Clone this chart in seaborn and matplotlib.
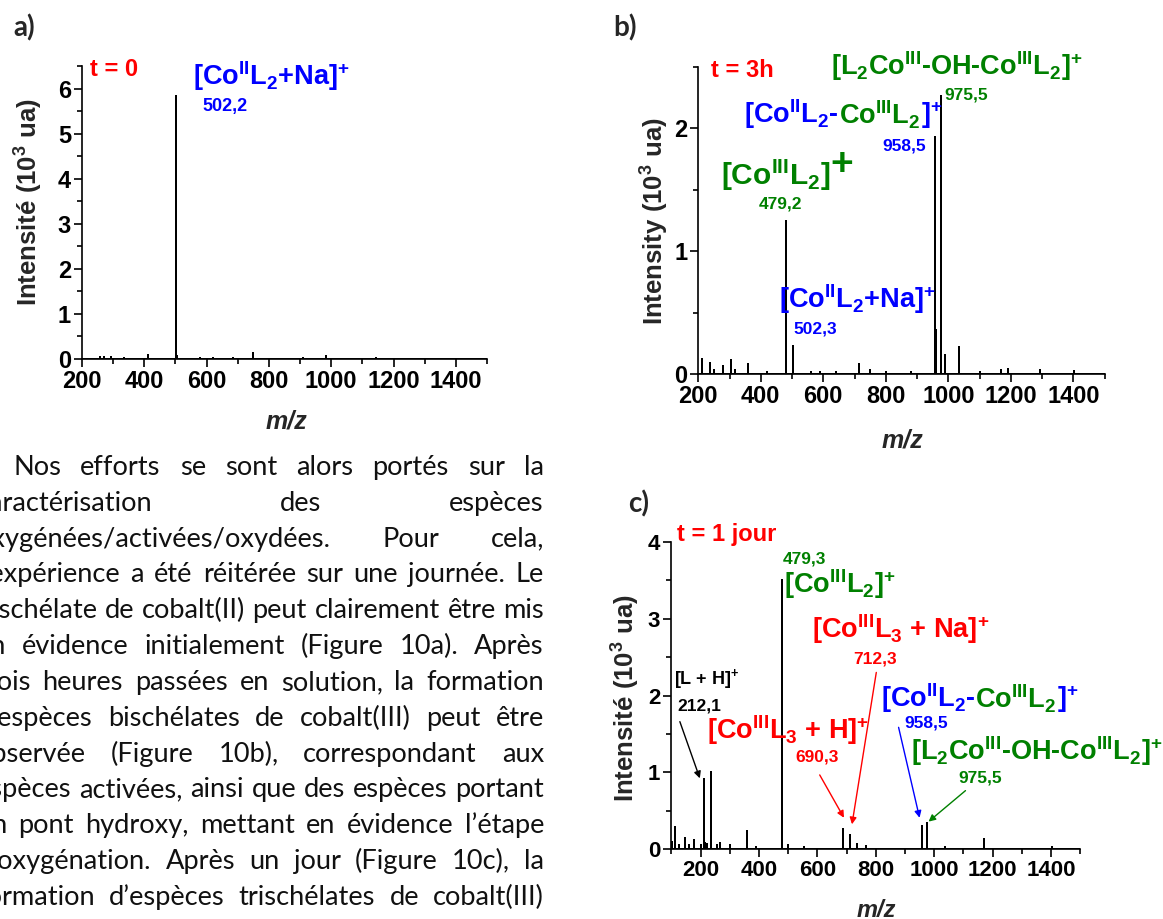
import numpy as np
import pandas as pd
import matplotlib
matplotlib.use('Agg')
import matplotlib.pyplot as plt
import seaborn as sns
from matplotlib.ticker import MultipleLocator
from matplotlib.transforms import IdentityTransform

# ---------------- data ----------------
a_mz = [258.8, 271.6, 293.0, 333.5, 411.5, 501.2, 504.4, 579, 622, 686, 750, 910, 983, 1145]
a_int = [0.045, 0.037, 0.045, 0.02, 0.08, 5.84, 0.06, 0.02, 0.02, 0.02, 0.13, 0.02, 0.06, 0.015]

b_mz = [212.8, 237.0, 249.5, 278.0, 304.5, 318.5, 360.0, 420, 479.5, 502.5, 560, 590, 640,
        713.0, 748.7, 800, 880, 958.4, 961.0, 975.5, 977.5, 989.0, 1034.0, 1103, 1168.5, 1191.0,
        1293, 1403.0]
b_int = [0.122, 0.087, 0.03, 0.065, 0.114, 0.03, 0.081, 0.02, 1.246, 0.228, 0.02, 0.02, 0.02,
         0.079, 0.03, 0.02, 0.02, 1.925, 0.36, 2.264, 1.39, 0.155, 0.217, 0.02, 0.033, 0.038,
         0.03, 0.022]

c_mz = [103.7, 112.0, 127.0, 146.4, 161.6, 178.0, 202.0, 211.0, 217.0, 223.0, 237.6, 257.6,
        266.0, 302.0, 358.4, 389.0, 478.0, 500.0, 555.6, 689.0, 710.5, 734.0, 765.0, 956.7,
        973.8, 1035.8, 1168.7, 1402.7]
c_int = [0.10, 0.29, 0.056, 0.15, 0.056, 0.12, 0.05, 0.92, 0.08, 0.065, 1.01, 0.056,
         0.08, 0.056, 0.24, 0.035, 3.5, 0.056, 0.026, 0.27, 0.18, 0.065, 0.04, 0.30,
         0.34, 0.035, 0.134, 0.026]

paragraph = [
    "Nos efforts se sont alors portés sur la",
    "caractérisation des espèces",
    "oxygénées/activées/oxydées. Pour cela,",
    "l’expérience a été réitérée sur une journée. Le",
    "bischélate de cobalt(II) peut clairement être mis",
    "en évidence initialement (Figure 10a). Après",
    "trois heures passées en solution, la formation",
    "d’espèces bischélates de cobalt(III) peut être",
    "observée (Figure 10b), correspondant aux",
    "espèces activées, ainsi que des espèces portant",
    "un pont hydroxy, mettant en évidence l’étape",
    "d’oxygénation. Après un jour (Figure 10c), la",
    "formation d’espèces trischélates de cobalt(III)",
]

RED, BLUE, GREEN = '#FF0000', '#0000FF', '#008000'

# ---------------- style ----------------
sns.set_style('ticks')
plt.rcParams.update({
    'font.family': ['Liberation Sans', 'DejaVu Sans'],
    'font.weight': 'bold',
    'axes.labelweight': 'bold',
    'mathtext.fontset': 'custom',
    'mathtext.rm': 'Liberation Sans:bold',
    'mathtext.bf': 'Liberation Sans:bold',
    'mathtext.it': 'Liberation Sans:italic:bold',
    'mathtext.default': 'rm',
    'axes.linewidth': 1.2,
    'axes.edgecolor': 'black',
    'xtick.color': 'black', 'ytick.color': 'black',
})

W, H = 1163, 919
fig = plt.figure(figsize=(W / 100, H / 100), dpi=100)


def add_ax(l, r, b, t):
    return fig.add_axes([l / W, 1 - b / H, (r - l) / W, (b - t) / H])


axA = add_ax(82, 487, 358.7, 66)
axB = add_ax(698.3, 1104.5, 374, 66.8)
axC = add_ax(671.3, 1080.3, 849.3, 541.7)


def sticks(mz, inten, xmin, xmax):
    xs, ys = [xmin], [0.0]
    for m, h in sorted(zip(mz, inten)):
        xs += [m, m, m]
        ys += [0.0, h, 0.0]
    xs.append(xmax)
    ys.append(0.0)
    return pd.DataFrame({'mz': xs, 'I': ys})


def style(ax, xlim, ylim, tsize, ylabel, ylc, xlc, xlsize=18):
    ax.set_xlim(*xlim)
    ax.set_ylim(*ylim)
    ax.xaxis.set_major_locator(MultipleLocator(200))
    ax.xaxis.set_minor_locator(MultipleLocator(100))
    ax.yaxis.set_major_locator(MultipleLocator(1))
    ax.yaxis.set_minor_locator(MultipleLocator(0.5))
    sns.despine(ax=ax)
    ax.tick_params(which='major', direction='out', length=6, width=1.2, labelsize=tsize, pad=2)
    ax.tick_params(which='minor', direction='out', length=3.5, width=1.2)
    for lab in ax.get_xticklabels() + ax.get_yticklabels():
        lab.set_fontweight('bold')
    ax.set_ylabel(ylabel, fontsize=18.5, fontweight='bold')
    ax.set_xlabel('m/z', fontsize=xlsize, fontweight='bold', fontstyle='italic')
    ax.yaxis.set_label_coords(*ylc)
    ax.xaxis.set_label_coords(*xlc)


for ax, mz, it, xl in [(axA, a_mz, a_int, (200, 1500)),
                       (axB, b_mz, b_int, (200, 1500)),
                       (axC, c_mz, c_int, (100, 1500))]:
    df = sticks(mz, it, *xl)
    sns.lineplot(data=df, x='mz', y='I', sort=False, estimator=None, color='black',
                 lw=1.4, ax=ax)

style(axA, (200, 1500), (0, 6.5), 17, r'Intensité (10$^{3}$ ua)', (-0.091, 0.535), (0.504, -0.175))
style(axB, (200, 1500), (0, 2.5), 17, r'Intensity (10$^{3}$ ua)', (-0.067, 0.499), (0.503, -0.176))
style(axC, (100, 1500), (0, 4.0), 16, r'Intensité (10$^{3}$ ua)', (-0.072, 0.49), (0.501, -0.160), 17)


def rich(ax, x, y, parts, size):
    """parts: (text, colour) or (text, colour, xy_frac, va, size)"""
    t = ax.text(x, y, parts[0][0], color=parts[0][1], fontsize=size, fontweight='bold',
                ha='left', va='baseline', clip_on=False)
    for p in parts[1:]:
        s, c = p[0], p[1]
        xy = p[2] if len(p) > 2 else (1, 0)
        va = p[3] if len(p) > 3 else 'bottom'
        sz = p[4] if len(p) > 4 else size
        t = ax.annotate(s, xy=xy, xycoords=t, color=c, fontsize=sz, fontweight='bold',
                        ha='left', va=va, annotation_clip=False)
    return t


def num(ax, x, y, s, c, size=12.5):
    ax.text(x, y, s, color=c, fontsize=size, fontweight='bold', ha='left', va='center',
            clip_on=False)


F_CO2NA = r'[Co$^{II}$L$_{2}$+Na]$^{+}$'
F_DIMER = r'[L$_{2}$Co$^{III}$-OH-Co$^{III}$L$_{2}$]$^{+}$'
F_CO3L2 = r'[Co$^{III}$L$_{2}$]$^{+}$'
BIG = 19.5

# panel a
axA.text(226, 6.27, 't = 0', color=RED, fontsize=17, fontweight='bold', va='baseline')
rich(axA, 556, 6.07, [(F_CO2NA, BLUE)], BIG)
num(axA, 588, 5.59, '502,2', BLUE, 13)

# panel b
axB.text(239.5, 2.421, 't = 3h', color=RED, fontsize=17, fontweight='bold', va='baseline')
rich(axB, 624.5, 2.435, [(F_DIMER, GREEN)], BIG)
num(axB, 987, 2.272, '975,5', GREEN)
rich(axB, 347, 2.041, [(r'[Co$^{II}$L$_{2}$-', BLUE), (r'Co$^{III}$L$_{2}$', GREEN),
                       (r']$^{+}$', BLUE)], BIG)
num(axB, 788.8, 1.857, '958,5', BLUE)
rich(axB, 271.5, 1.539, [(r'[Co$^{III}$L$_{2}$]', GREEN), ('+', GREEN, (1.0, 0.8), 'center', 28)], 21.5)
num(axB, 392, 1.384, '479,2', GREEN)
rich(axB, 458, 0.535, [(F_CO2NA, BLUE)], BIG)
num(axB, 504, 0.364, '502,3', BLUE)

# panel c
axC.text(118, 4.01, 't = 1 jour', color=RED, fontsize=17, fontweight='bold', va='baseline')
num(axC, 482.6, 3.77, '479,3', GREEN)
rich(axC, 486, 3.33, [(F_CO3L2, GREEN)], BIG)
rich(axC, 581.8, 2.744, [(r'[Co$^{III}$L$_{3}$ + Na]$^{+}$', RED)], BIG)
num(axC, 722, 2.47, '712,3', RED)
rich(axC, 110, 2.15, [(r'[L + H]$^{+}$', 'black')], 13)
num(axC, 121.4, 1.868, '212,1', 'black')
rich(axC, 222.8, 1.435, [(r'[Co$^{III}$L$_{3}$ + H]$^{+}$', RED)], BIG)
num(axC, 524.8, 1.205, '690,3', RED)
rich(axC, 816.5, 1.855, [(r'[Co$^{II}$L$_{2}$-', BLUE), (r'Co$^{III}$L$_{2}$', GREEN),
                         (r']$^{+}$', BLUE)], BIG)
num(axC, 898.6, 1.64, '958,5', BLUE)
rich(axC, 921.4, 1.162, [(F_DIMER, GREEN)], BIG)
num(axC, 1081, 0.932, '975,5', GREEN)

for (x0, y0), (x1, y1), c in [((129.3, 1.66), (197.7, 0.923), 'black'),
                              ((608, 0.967), (691, 0.41), RED),
                              ((801.7, 2.30), (718.5, 0.325), RED),
                              ((878, 1.586), (949.8, 0.41), BLUE),
                              ((1107, 0.763), (980.6, 0.36), GREEN)]:
    axC.annotate('', xy=(x1, y1), xytext=(x0, y0),
                 arrowprops=dict(arrowstyle='-|>', color=c, lw=1.0, mutation_scale=10,
                                 shrinkA=0, shrinkB=0))

# panel letters
for s, x, y in [('a)', 13, 36), ('b)', 613, 36), ('c)', 628, 512)]:
    fig.text(x / W, 1 - y / H, s, fontsize=20, fontweight='bold', family=['Lato', 'DejaVu Sans'],
             va='baseline', ha='left')

# ---------------- justified paragraph ----------------
fig.canvas.draw()
renderer = fig.canvas.get_renderer()
PFAM = ['Lato', 'DejaVu Sans']
x_right, x_margin = 544, -23
# fit the font size so that the tightly set lines have natural word spacing
ws = []
for k in (3, 4, 9):
    probe = fig.text(0, 0, paragraph[k], fontsize=10, family=PFAM, fontweight='normal',
                     transform=IdentityTransform())
    ws.append(probe.get_window_extent(renderer).width)
    probe.remove()
PSIZE = 10 * (x_right - x_margin) / np.mean(ws) * 0.985

for i, line in enumerate(paragraph):
    words = line.split()
    y = H - (475 + i * 35.83)
    x_left = 13 if i == 0 else x_margin
    arts, widths = [], []
    for w in words:
        t = fig.text(0, y, w, fontsize=PSIZE, family=PFAM, fontweight='normal',
                     color='#111111', transform=IdentityTransform(), va='baseline', ha='left')
        arts.append(t)
        widths.append(t.get_window_extent(renderer).width)
    gap = (x_right - x_left - sum(widths)) / max(len(words) - 1, 1)
    x = x_left
    for t, w in zip(arts, widths):
        t.set_x(x)
        x += w + gap

fig.savefig('out.png', dpi=100)
